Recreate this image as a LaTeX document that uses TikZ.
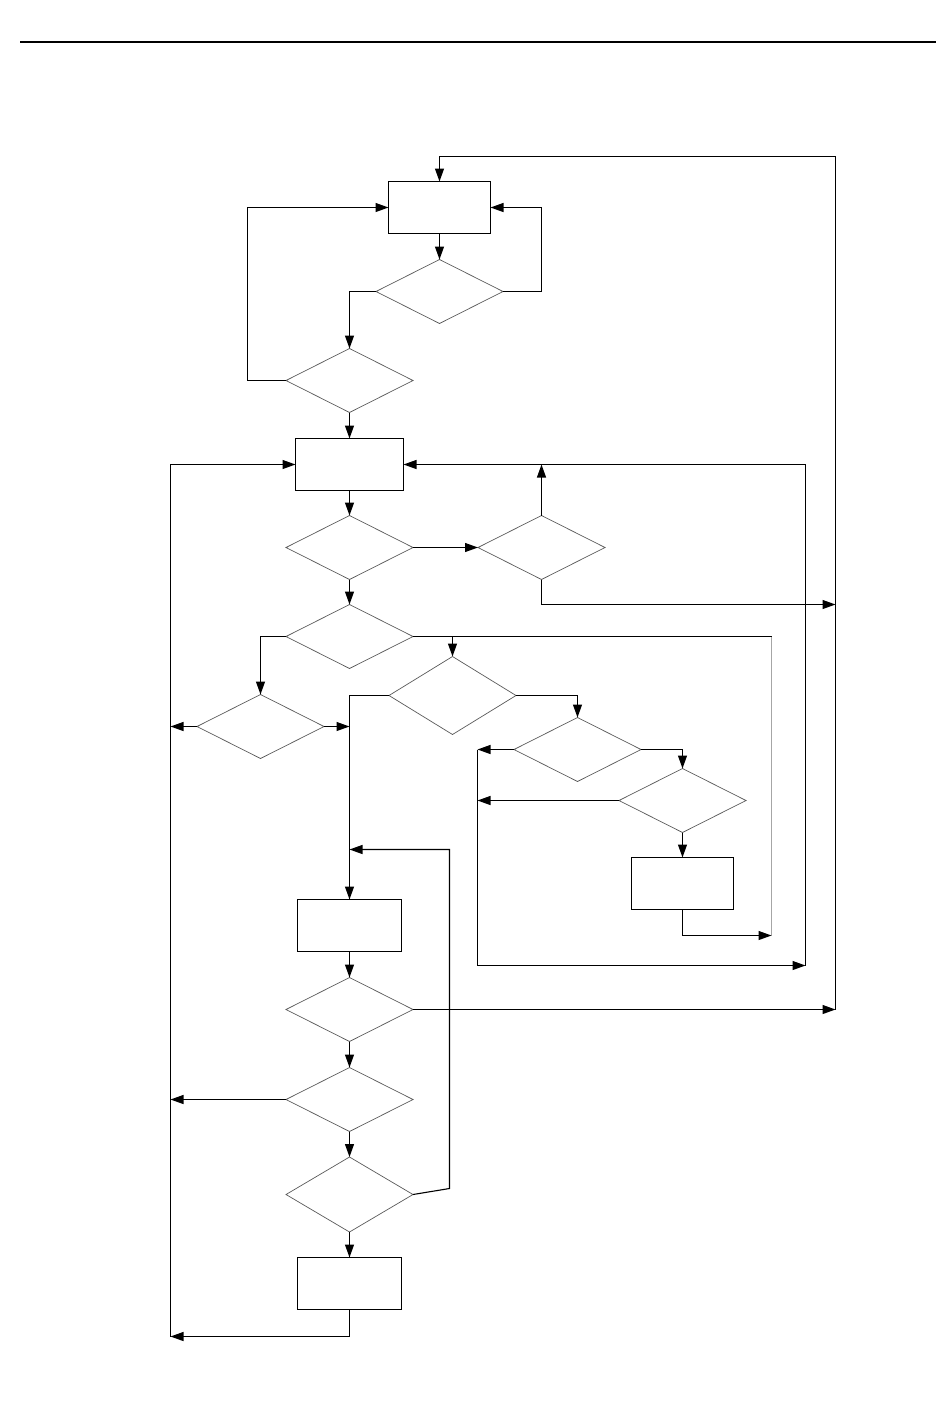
\documentclass[tikz,border=0pt]{standalone}
\usetikzlibrary{shapes.geometric,arrows.meta}
\tikzset{
  box/.style={draw, line width=1.2pt, minimum width=102pt, minimum height=52pt, inner sep=0pt, outer sep=0pt},
  dec/.style={diamond, draw=black!65, line width=0.7pt, minimum width=127pt, minimum height=64pt, inner sep=0pt, outer sep=0pt},
  link/.style={line width=1.1pt, -{Triangle[length=13pt,width=9pt]}},
  plain/.style={line width=1.1pt},
  faint/.style={line width=1.1pt, draw=black!35}
}
\begin{document}
\begin{tikzpicture}[x=1pt,y=-1pt]
\useasboundingbox (0,0) rectangle (950,1425);
% header rule
\coordinate (h1) at (20,42);
\coordinate (h2) at (936,42);
\draw[line width=2pt] (h1) -- (h2);

% nodes
\node[box] (b1) at (439.5,207.5) {};
\node[dec] (d1) at (439.5,291.5) {};
\node[dec] (d2) at (349.5,380.5) {};
\node[box, minimum width=108pt] (b2) at (349.5,464.5) {};
\node[dec] (d3) at (349.5,547.5) {};
\node[dec] (d4) at (541.5,547.5) {};
\node[dec] (d5) at (349.5,636.5) {};
\node[dec] (d6) at (260.5,726.5) {};
\node[dec, minimum height=78pt] (d7) at (452.5,695.5) {};
\node[dec] (d8) at (577.5,749.5) {};
\node[dec] (d9) at (682.5,800.5) {};
\node[box] (b4) at (682.5,883.5) {};
\node[box, minimum width=104pt] (b3) at (349.5,925.5) {};
\node[dec] (d10) at (349.5,1009.5) {};
\node[dec] (d11) at (349.5,1099.5) {};
\node[dec, minimum height=75pt] (d12) at (349.5,1194.5) {};
\node[box, minimum width=104pt] (b5) at (349.5,1283.5) {};

% bus coordinates
\coordinate (rtop) at (835.5,156.5);
\coordinate (rmid) at (835.5,604.5);
\coordinate (rbot) at (835.5,1009.5);
\coordinate (r2top) at (805.5,464.5);
\coordinate (r2bot) at (805.5,965.5);
\coordinate (g1) at (771.5,636.5);
\coordinate (g2) at (771.5,935.5);
\coordinate (lv1) at (477.5,749.5);
\coordinate (lv2) at (477.5,965.5);
\coordinate (ltop) at (170.5,464.5);
\coordinate (lbot) at (170.5,1336.5);
\coordinate (lp1) at (449.5,1188.5);
\coordinate (lp2) at (449.5,849.5);
\coordinate (c1) at (541.5,291.5);
\coordinate (c2) at (247.5,380.5);

% top part
\draw[link] (b1) -- (d1);
\draw[link] (d1.east) -- (c1) |- (b1.east);
\draw[link] (d1.west) -| (d2.north);
\draw[link] (d2.west) -- (c2) |- (b1.west);
\draw[link] (d2) -- (b2);
\draw[link] (rbot) -- (rtop) -| (b1.north);

% middle
\draw[link] (b2) -- (d3);
\draw[link] (d3) -- (d4);
\draw[link] (d3) -- (d5);
\draw[link] (d4.north) -- (d4.north |- b2.east);
\draw[link] (d4.south) |- (rmid);
\draw[link] (r2bot) -- (r2top) -- (b2.east);
\draw[link] (lbot) -- (ltop) -- (b2.west);

\draw[link] (d5.west) -| (d6.north);
\draw[plain] (d5.east) -- (g1);
\draw[faint] (g1) -- (g2);
\draw[link] (d5.east -| d7.north) -- (d7.north);
\draw[link] (d6.west) -- (d6.west -| ltop);
\draw[link] (d6.east) -- (d6.east -| b3.north);
\draw[link] (d7.west) -| (b3.north);
\draw[link] (d7.east) -| (d8.north);
\draw[link] (d8.east) -| (d9.north);
\draw[link] (d8.west) -- (lv1);
\draw[link] (d9.west) -- (d9.west -| lv1);
\draw[link] (lv1) -- (lv2) -- (r2bot);
\draw[link] (d9) -- (b4);
\draw[link] (b4.south) |- (g2);

% lower column
\draw[link] (b3) -- (d10);
\draw[link] (d10.east) -- (rbot);
\draw[link] (d10) -- (d11);
\draw[link] (d11.west) -- (d11.west -| ltop);
\draw[link] (d11) -- (d12);
\draw[link] (d12.east) -- (lp1) -- (lp2) -- (lp2 -| b3.north);
\draw[link] (d12) -- (b5);
\draw[link] (b5.south) |- (lbot);
\end{tikzpicture}
\end{document}
